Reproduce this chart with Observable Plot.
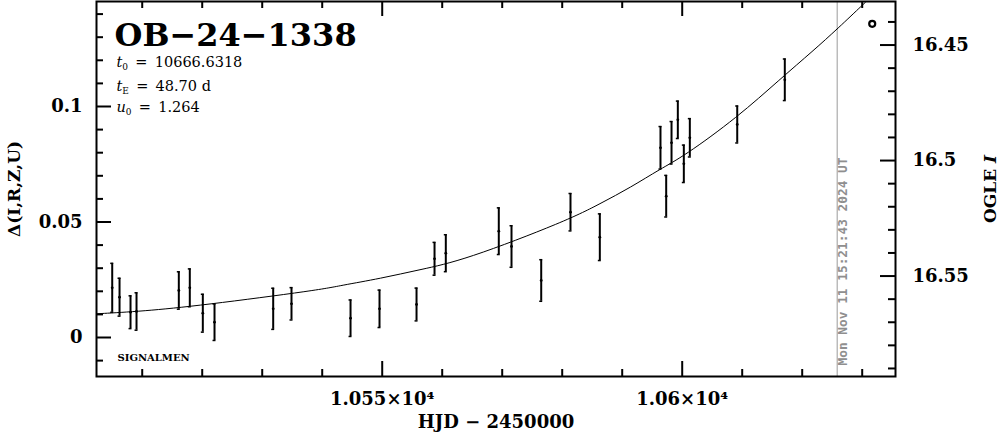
<!DOCTYPE html>
<html><head><meta charset="utf-8">
<script src="https://cdn.jsdelivr.net/npm/d3@7"></script>
<script src="https://cdn.jsdelivr.net/npm/@observablehq/plot@0.6"></script>
<style>
html,body{margin:0;padding:0;background:#fff;}
#chart svg{display:block;}
</style>
</head><body><div id="chart"></div>
<script>
// ---- data ----
const hjd = [10505.0, 10506.22, 10508.05, 10509.05, 10516.10, 10517.93, 10520.10, 10522.05,
  10531.83, 10534.88, 10544.72, 10549.55, 10555.72, 10558.72, 10560.60, 10569.43, 10571.55,
  10576.50, 10581.38, 10586.27, 10596.38, 10597.33, 10598.22, 10599.27, 10600.27, 10601.27,
  10609.17, 10617.10];
const delta = [0.0215, 0.01745, 0.01095, 0.01126, 0.02035, 0.0215, 0.01052, 0.00662,
  0.01242, 0.01459, 0.00835, 0.01242, 0.01429, 0.03407, 0.03649, 0.04602, 0.03939,
  0.02468, 0.05424, 0.04342, 0.08212, 0.06117, 0.08429, 0.09424, 0.07519, 0.08645,
  0.09221, 0.11156];
const deltaErr = [0.0106, 0.0082, 0.0071, 0.0081, 0.0081, 0.0082, 0.0082, 0.0079,
  0.0089, 0.0070, 0.0079, 0.0081, 0.0071, 0.0071, 0.0080, 0.0101, 0.0090,
  0.0090, 0.0081, 0.0101, 0.0092, 0.0090, 0.0092, 0.0081, 0.0081, 0.0083,
  0.0080, 0.0090];
const modelT = [10502.38, 10510.22, 10519.72, 10539.72, 10543.05, 10549.72, 10556.38, 10563.55,
  10580.88, 10586.38, 10591.38, 10596.38, 10600.22, 10609.22, 10616.38, 10621.88, 10625.88, 10630.55];
const modelD = [0.01026, 0.01139, 0.01385, 0.02065, 0.02251, 0.02554, 0.02944, 0.03333,
  0.05065, 0.05801, 0.06494, 0.07303, 0.07835, 0.09537, 0.11199, 0.12424, 0.13364, 0.14515];
const markerT = [10631.67];
const markerD = [0.1358];
const nowT = [10625.83];
const nowLabel = ["Mon Nov 11 15:21:43 2024 UT"];
const title = ["OB\u221224\u22121338"];
const paramSymbols = ["t", "t", "u"];
const paramSubs = ["0", "E", "0"];
const paramValues = ["10666.6318", "48.70 d", "1.264"];
const siteLabel = ["SIGNALMEN"];
const xMajor = [10550, 10600];
const xMinor = [10510, 10520, 10530, 10540, 10560, 10570, 10580, 10590, 10610, 10620, 10630];
const yMajor = [0, 0.05, 0.1];
const yMinor = [-0.01, 0.01, 0.02, 0.03, 0.04, 0.06, 0.07, 0.08, 0.09, 0.11, 0.12, 0.13, 0.14];
const magMajor = [16.45, 16.5, 16.55];
const magMinor = [16.44, 16.46, 16.47, 16.48, 16.49, 16.51, 16.52, 16.53, 16.54, 16.56, 16.57, 16.58, 16.59];
const magZero = 16.5766; // OGLE I at which delta = 0
const xLabel = ["HJD \u2212 2450000"];
const yLabel = ["\u0394(I,R,Z,U)"];
const y2Label = ["OGLE I"];

// ---- layout ----
const W = 999, H = 434, mL = 96, mR = 104, mT = 1, mB = 58;
const innerW = W - mL - mR, innerH = H - mT - mB;
const xDomain = [10502.38, 10635.55];
const yDomain = [-0.01688, 0.14545];
const serif = "'DejaVu Serif', serif";

const pts = hjd.map((t, i) => ({t, d: delta[i], e: deltaErr[i]}));
const model = modelT.map((t, i) => ({t, d: modelD[i]}));
const marker = markerT.map((t, i) => ({t, d: markerD[i]}));
const magToD = m => magZero - m;
const magFmt = d => String(magMajor.find(m => Math.abs(magToD(m) - d) < 1e-9));
const paramText = i => paramSymbols[i] + paramSubs[i] + "\u2002=\u2002" + paramValues[i];

const paramMarks = paramValues.map((v, i) =>
  Plot.text([paramText(i)], {
    frameAnchor: "top-left", textAnchor: "start", lineAnchor: "bottom",
    dx: 20, dy: [65.7, 89.7, 110.7][i], fontSize: 14.5
  }));

const svg = Plot.plot({
  width: W, height: H, marginLeft: mL, marginRight: mR, marginTop: mT, marginBottom: mB,
  style: {fontFamily: serif, background: "#fff", color: "#000", overflow: "visible"},
  x: {domain: xDomain, label: null},
  y: {domain: yDomain, label: null},
  marks: [
    Plot.ruleX(nowT, {x: d => d, stroke: "#9a9a9a", strokeWidth: 1}),
    Plot.text(nowLabel, {x: () => nowT[0], y: () => yDomain[0], rotate: -90, textAnchor: "start",
      dx: 6, dy: -11, fill: "#8f8f8f", fontFamily: "'DejaVu Sans Mono', monospace",
      fontWeight: "bold", fontSize: 12.8}),
    Plot.line(model, {x: "t", y: "d", curve: "basis", stroke: "#000", strokeWidth: 1, clip: true}),
    Plot.ruleX(pts, {x: "t", y1: d => d.d - d.e, y2: d => d.d + d.e, stroke: "#000", strokeWidth: 2}),
    Plot.ruleY(pts, {y: d => d.d + d.e, x1: d => d.t - 0.25, x2: d => d.t + 0.25, stroke: "#000", strokeWidth: 1.5}),
    Plot.ruleY(pts, {y: d => d.d - d.e, x1: d => d.t - 0.25, x2: d => d.t + 0.25, stroke: "#000", strokeWidth: 1.5}),
    Plot.dot(pts, {x: "t", y: "d", r: 1.4, fill: "#000", stroke: null}),
    Plot.dot(marker, {x: "t", y: "d", r: 3, fill: "none", stroke: "#000", strokeWidth: 2.2}),
    // ticks (inward)
    Plot.tickX(xMinor, {x: d => d, insetTop: innerH - 7, strokeWidth: 2}),
    Plot.tickX(xMinor, {x: d => d, insetBottom: innerH - 7, strokeWidth: 2}),
    Plot.tickX(xMajor, {x: d => d, insetTop: innerH - 15, strokeWidth: 2}),
    Plot.tickX(xMajor, {x: d => d, insetBottom: innerH - 15, strokeWidth: 2}),
    Plot.tickY(yMinor, {y: d => d, insetRight: innerW - 7, strokeWidth: 2}),
    Plot.tickY(yMajor, {y: d => d, insetRight: innerW - 15, strokeWidth: 2}),
    Plot.tickY(magMinor.map(magToD), {y: d => d, insetLeft: innerW - 7, strokeWidth: 2}),
    Plot.tickY(magMajor.map(magToD), {y: d => d, insetLeft: innerW - 15, strokeWidth: 2}),
    Plot.frame({stroke: "#000", strokeWidth: 2}),
    // axes labels
    Plot.axisX(xMajor, {anchor: "bottom", tickSize: 0, tickPadding: 16, label: null,
      tickFormat: d => (d / 1e4) + "\u00d710\u2074", fontSize: 18, fontWeight: "bold"}),
    Plot.axisY(yMajor, {anchor: "left", tickSize: 0, tickPadding: 14, label: null,
      tickFormat: d => String(d), fontSize: 18, fontWeight: "bold"}),
    Plot.axisY(magMajor.map(magToD), {anchor: "right", tickSize: 0, tickPadding: 17, label: null,
      tickFormat: magFmt, fontSize: 18, fontWeight: "bold"}),
    Plot.text(xLabel, {frameAnchor: "bottom", textAnchor: "middle", lineAnchor: "bottom", dy: 51,
      fontSize: 18, fontWeight: "bold"}),
    Plot.text(yLabel, {frameAnchor: "left", textAnchor: "middle", lineAnchor: "middle", dx: -82, rotate: -90,
      fontSize: 17, fontWeight: "bold"}),
    Plot.text(y2Label, {frameAnchor: "right", textAnchor: "middle", lineAnchor: "middle", dx: 95, rotate: -90,
      fontSize: 17, fontWeight: "bold"}),
    // annotations
    Plot.text(title, {frameAnchor: "top-left", textAnchor: "start", lineAnchor: "bottom",
      dx: 18, dy: 44, fontSize: 32, fontWeight: "bold"}),
    ...paramMarks,
    Plot.text(siteLabel, {frameAnchor: "bottom-left", textAnchor: "start", lineAnchor: "bottom",
      dx: 21, dy: -16, fontSize: 10, fontWeight: "bold"})
  ]
});

// subscripts and italics (rebuild the text nodes with tspans)
const allText = Array.from(svg.querySelectorAll("text"));
paramValues.forEach((v, i) => {
  const el = allText.find(n => n.textContent === paramText(i));
  if (!el) return;
  const t = d3.select(el);
  t.text(null);
  t.append("tspan").attr("font-style", "italic").text(paramSymbols[i]);
  t.append("tspan").attr("font-size", 9).attr("dy", 3).text(paramSubs[i]);
  t.append("tspan").attr("dy", -3).text("\u2002=\u2002" + v);
});
{
  const s = y2Label[0];
  const el = allText.find(n => n.textContent === s);
  if (el) {
    const t = d3.select(el);
    t.text(null);
    t.append("tspan").text(s.slice(0, -1));
    t.append("tspan").attr("font-style", "italic").text(s.slice(-1));
  }
}
document.getElementById("chart").appendChild(svg);
</script>
</body></html>
